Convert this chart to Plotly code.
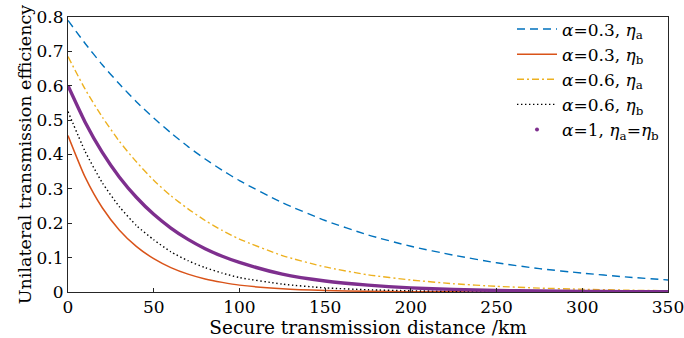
import plotly.graph_objects as go

distance_km = [0, 10, 20, 30, 40, 50, 60, 70, 80, 90, 100,
               125, 150, 175, 200, 225, 250, 275, 300, 325, 350]

eta_a_alpha03 = [0.790, 0.723, 0.661, 0.605, 0.553, 0.506, 0.463, 0.423, 0.387, 0.354, 0.324,
                 0.260, 0.208, 0.166, 0.133, 0.107, 0.085, 0.068, 0.055, 0.044, 0.035]
eta_b_alpha03 = [0.455, 0.334, 0.245, 0.180, 0.132, 0.097, 0.071, 0.052, 0.038, 0.028, 0.020,
                 0.0095, 0.0044, 0.0020, 0.0009, 0.0004, 0.0002, 0.0001, 0.00005, 0.00003, 0.00001]
eta_a_alpha06 = [0.685, 0.590, 0.509, 0.438, 0.378, 0.325, 0.280, 0.242, 0.208, 0.179, 0.154,
                 0.106, 0.073, 0.050, 0.035, 0.024, 0.0165, 0.0114, 0.0079, 0.0054, 0.0037]
eta_b_alpha06 = [0.525, 0.409, 0.318, 0.248, 0.193, 0.152, 0.117, 0.091, 0.071, 0.055, 0.042,
                 0.023, 0.012, 0.0066, 0.0035, 0.0019, 0.0010, 0.0005, 0.0003, 0.0002, 0.0001]
eta_alpha1 = [0.600, 0.494, 0.406, 0.334, 0.275, 0.226, 0.186, 0.153, 0.126, 0.104, 0.086,
              0.052, 0.032, 0.020, 0.012, 0.0075, 0.0046, 0.0028, 0.0017, 0.0011, 0.0007]

labels = ["<i>α</i>=0.3, <i>η</i><sub>a</sub>",
          "<i>α</i>=0.3, <i>η</i><sub>b</sub>",
          "<i>α</i>=0.6, <i>η</i><sub>a</sub>",
          "<i>α</i>=0.6, <i>η</i><sub>b</sub>",
          "<i>α</i>=1, <i>η</i><sub>a</sub>=<i>η</i><sub>b</sub>"]

x_ticks = [0, 50, 100, 150, 200, 250, 300, 350]
y_ticks = [0, 0.1, 0.2, 0.3, 0.4, 0.5, 0.6, 0.7, 0.8]
y_tick_text = ["0", "0.1", "0.2", "0.3", "0.4", "0.5", "0.6", "0.7", "0.8"]

FONT = "DejaVu Serif"

fig = go.Figure()
fig.add_trace(go.Scatter(x=distance_km, y=eta_a_alpha03, mode="lines", name=labels[0],
                         line=dict(color="#0072BD", width=1.4, dash="8px,5px", shape="spline", smoothing=0.6)))
fig.add_trace(go.Scatter(x=distance_km, y=eta_b_alpha03, mode="lines", name=labels[1],
                         line=dict(color="#D95319", width=1.5, shape="spline", smoothing=0.6)))
fig.add_trace(go.Scatter(x=distance_km, y=eta_a_alpha06, mode="lines", name=labels[2],
                         line=dict(color="#EDB120", width=1.4, dash="7px,3px,2px,3px", shape="spline", smoothing=0.6)))
fig.add_trace(go.Scatter(x=distance_km, y=eta_b_alpha06, mode="lines", name=labels[3],
                         line=dict(color="#000000", width=1.4, dash="1.4px,2.6px", shape="spline", smoothing=0.6)))
fig.add_trace(go.Scatter(x=distance_km, y=eta_alpha1, mode="lines", name=labels[4], showlegend=False,
                         line=dict(color="#7E2F8E", width=3.4, shape="spline", smoothing=0.6)))
fig.add_trace(go.Scatter(x=[None], y=[None], mode="markers", name=labels[4],
                         marker=dict(color="#7E2F8E", size=4)))

axis_common = dict(showgrid=False, zeroline=False, showline=True, linecolor="#262626", linewidth=1,
                   mirror=True, ticks="inside", ticklen=4, tickcolor="#262626", automargin=False,
                   ticklabeloverflow="allow",
                   tickfont=dict(family=FONT, size=17, color="#000000"))

fig.update_xaxes(range=[0, 350], tickvals=x_ticks, ticktext=[str(v) for v in x_ticks],
                 title=dict(text="Secure transmission distance /km", font=dict(family=FONT, size=18.5, color="#000"),
                            standoff=0),
                 **axis_common)
fig.update_yaxes(range=[0, 0.8], tickvals=y_ticks, ticktext=y_tick_text,
                 title=dict(text="Unilateral transmission efficiency", font=dict(family=FONT, size=17.5, color="#000"),
                            standoff=0),
                 **axis_common)

fig.update_layout(width=684, height=338, margin=dict(l=68, r=16, t=17, b=46),
                  paper_bgcolor="white", plot_bgcolor="white",
                  legend=dict(x=0.995, xanchor="right", y=1.02, yanchor="top",
                              bgcolor="rgba(255,255,255,0)", borderwidth=0,
                              font=dict(family=FONT, size=17, color="#000"),
                              itemwidth=40, tracegroupgap=0),
                  showlegend=True)

fig.write_html("out.html", config={"displayModeBar": False},
               post_script="document.body.style.margin='0';")
